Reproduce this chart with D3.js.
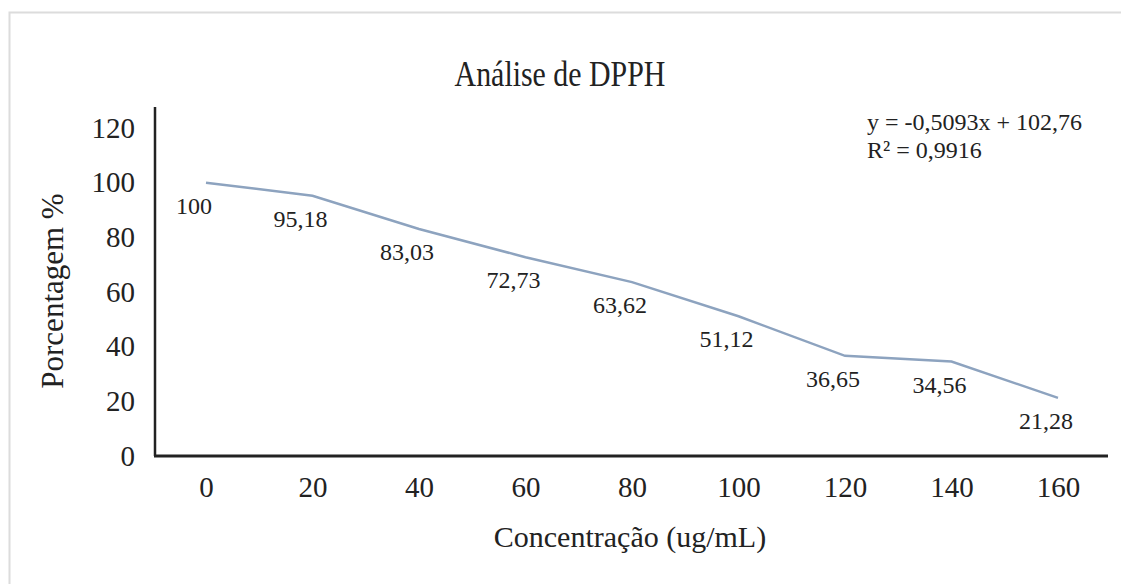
<!DOCTYPE html>
<html>
<head>
<meta charset="utf-8">
<script src="https://cdn.jsdelivr.net/npm/d3@7"></script>
<style>
  body { margin: 0; background: #fff; }
  svg text { font-family: "Liberation Serif", "DejaVu Serif", serif; fill: #222; }
</style>
</head>
<body>
<svg id="chart"></svg>
<script>
// data
const concentrations = ["0", "20", "40", "60", "80", "100", "120", "140", "160"];
const percentages = [100, 95.18, 83.03, 72.73, 63.62, 51.12, 36.65, 34.56, 21.28];
const yTicks = [0, 20, 40, 60, 80, 100, 120];
const trendLines = ["y = -0,5093x + 102,76", "R² = 0,9916"];

const width = 1121, height = 584;
const margin = { top: 128, right: 13, bottom: 128, left: 155 };

const svg = d3.select("#chart")
    .attr("width", width)
    .attr("height", height);

// outer frame of the chart area
svg.append("rect")
    .attr("x", 9.5).attr("y", 12.5)
    .attr("width", width + 20).attr("height", height + 20)
    .attr("fill", "none")
    .attr("stroke", "#dcdcdc")
    .attr("stroke-width", 2);

const x = d3.scalePoint()
    .domain(concentrations)
    .range([206, 1058]);

const y = d3.scaleLinear()
    .domain([0, 120])
    .range([456, margin.top]);

// title
svg.append("text")
    .attr("transform", "translate(560,86) scale(0.83,1)")
    .attr("text-anchor", "middle")
    .attr("font-size", 36)
    .text("Análise de DPPH");

// y axis
const yAxis = svg.append("g")
    .attr("transform", `translate(${margin.left},0)`)
    .call(d3.axisLeft(y).tickValues(yTicks).tickSize(0).tickPadding(20));
yAxis.select(".domain").remove();
yAxis.selectAll("text").attr("font-size", 29);

svg.append("line")
    .attr("x1", margin.left).attr("x2", margin.left)
    .attr("y1", 107).attr("y2", y(0))
    .attr("stroke", "#222").attr("stroke-width", 2.5);

// x axis
const xAxis = svg.append("g")
    .attr("transform", `translate(0,${y(0)})`)
    .call(d3.axisBottom(x).tickSize(0).tickPadding(20));
xAxis.select(".domain").remove();
xAxis.selectAll("text").attr("font-size", 29);

svg.append("line")
    .attr("x1", margin.left - 1).attr("x2", 1108)
    .attr("y1", y(0)).attr("y2", y(0))
    .attr("stroke", "#222").attr("stroke-width", 3);

// axis titles
svg.append("text")
    .attr("transform", `translate(63,291) rotate(-90)`)
    .attr("text-anchor", "middle")
    .attr("font-size", 31)
    .text("Porcentagem %");

svg.append("text")
    .attr("x", 630).attr("y", 547)
    .attr("text-anchor", "middle")
    .attr("font-size", 30)
    .text("Concentração (ug/mL)");

// series line
const line = d3.line()
    .x((d, i) => x(concentrations[i]))
    .y(d => y(d));

svg.append("path")
    .datum(percentages)
    .attr("d", line)
    .attr("fill", "none")
    .attr("stroke", "#8da3bf")
    .attr("stroke-width", 2.5);

// data labels
svg.append("g")
    .selectAll("text")
    .data(percentages)
    .join("text")
    .attr("x", (d, i) => x(concentrations[i]) - 12)
    .attr("y", d => y(d) + 31)
    .attr("text-anchor", "middle")
    .attr("font-size", 24)
    .text(d => String(d).replace(".", ","));

// trendline equation
svg.append("g")
    .selectAll("text")
    .data(trendLines)
    .join("text")
    .attr("x", 867)
    .attr("y", (d, i) => 130 + i * 28)
    .attr("font-size", 24)
    .text(d => d);
</script>
</body>
</html>
